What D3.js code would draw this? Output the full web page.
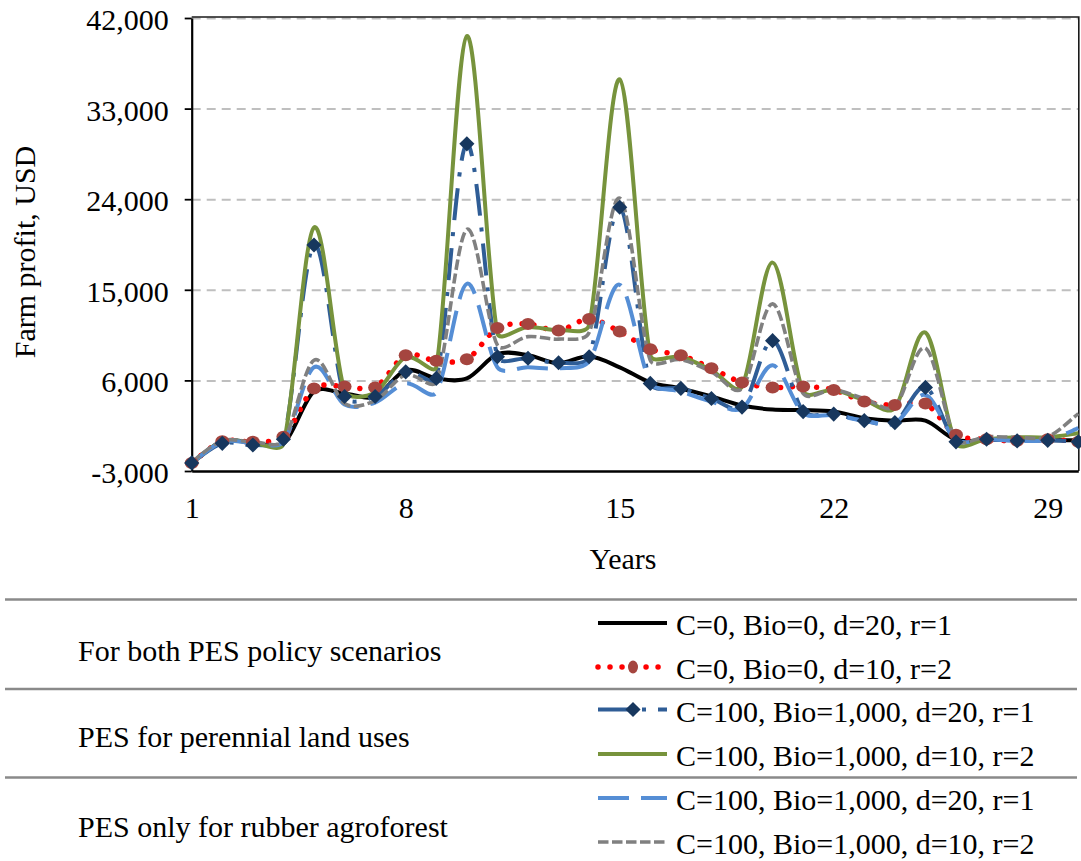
<!DOCTYPE html>
<html><head><meta charset="utf-8">
<script src="https://cdn.jsdelivr.net/npm/d3@7"></script>
<style>
body{margin:0;background:#fff;}
svg{display:block;font-family:"Liberation Serif","Times New Roman",serif;}
</style>
</head><body>
<svg id="c" width="1081" height="861"></svg>
<script>
// ---------------- data ----------------
const years = [1,2,3,4,5,6,7,8,9,10,11,12,13,14,15,16,17,18,19,20,21,22,23,24,25,26,27,28,29,30];
const xTicks = [1, 8, 15, 22, 29];
const yTicks = [-3000, 6000, 15000, 24000, 33000, 42000];

const seriesNames = [
  "C=0, Bio=0, d=20, r=1",
  "C=0, Bio=0, d=10, r=2",
  "C=100, Bio=1,000, d=20, r=1",
  "C=100, Bio=1,000, d=10, r=2",
  "C=100, Bio=1,000, d=20, r=1",
  "C=100, Bio=1,000, d=10, r=2"
];
const groupNames = ["For both PES policy scenarios", "PES for perennial land uses", "PES only for rubber agroforest"];

const baseD20 = [-2200,-50,-150,-300,4900,4700,4400,7000,6200,6200,8600,8500,7700,8400,7300,5800,5200,4400,3500,3100,3050,2900,2250,2000,2000,100,100,50,50,50];
const baseD10 = [-2200,-50,-100,400,5200,5400,5300,8500,7950,8100,11200,11600,10950,12100,10850,9100,8500,7200,5800,5300,5400,5050,3900,3550,3700,600,150,0,150,-100];
const perenD20 = [-2200,-250,-420,150,19450,4400,4400,6850,6200,29500,8350,8200,7750,8350,23200,5700,5200,4200,3350,9950,2900,2650,2000,1800,5300,-100,150,0,50,-100];
const perenD10 = [-2200,-50,-200,-300,21200,5000,4800,8300,7350,40200,10700,11300,11000,11500,35900,8500,8350,7000,5400,17700,4900,5050,4050,3250,10750,-250,150,350,350,750];
const rubberD20 = [-2200,-100,-200,-100,7300,3600,3800,5700,4800,15600,7300,7300,7200,7900,15500,5800,4900,3900,3200,7500,2750,2550,2000,1750,4550,100,150,0,100,1250];
const rubberD10 = [-2100,0,-100,0,8000,3700,4000,6550,5850,21000,9500,10350,10100,10750,24100,8000,8050,6850,5200,13600,4700,5050,4200,3400,9200,100,400,350,400,2700];

// ---------------- styles built from data ----------------
const series = [
  {name: seriesNames[0], values: baseD20, color:"#000000", width:4, dash:null, cap:"butt"},
  {name: seriesNames[1], values: baseD10, color:"#ff0000", width:5.5, dash:"0.01 12", cap:"round", marker:"circle", mcolor:"#a5453f"},
  {name: seriesNames[2], values: perenD20, color:"#2f5d96", width:4, dash:"32 12 4 12", cap:"butt", marker:"diamond", mcolor:"#17375e"},
  {name: seriesNames[3], values: perenD10, color:"#77933c", width:4, dash:null, cap:"butt"},
  {name: seriesNames[4], values: rubberD20, color:"#558ed5", width:4, dash:"31 12", cap:"butt"},
  {name: seriesNames[5], values: rubberD10, color:"#808080", width:3.6, dash:"10.5 3.5", cap:"butt"}
];

const svg = d3.select("#c");
const x = d3.scaleLinear().domain([1,30]).range([191.7,1078.3]);
const y = d3.scaleLinear().domain([-3000,42000]).range([471,18]);
const FS = 30;

// Excel-like smoothing: Bezier with 1/6 tangents, handle clamped relative to chord
function smoothPath(pts, K){
  const p = d3.path();
  p.moveTo(pts[0][0], pts[0][1]);
  const n = pts.length;
  for (let i=0;i<n-1;i++){
    const p0 = pts[Math.max(i-1,0)], p1 = pts[i], p2 = pts[i+1], p3 = pts[Math.min(i+2,n-1)];
    const chord = Math.hypot(p2[0]-p1[0], p2[1]-p1[1]);
    const lim = chord*K;
    let t1 = [(p2[0]-p0[0])/6, (p2[1]-p0[1])/6];
    let t2 = [(p3[0]-p1[0])/6, (p3[1]-p1[1])/6];
    const l1 = Math.hypot(t1[0],t1[1]); if (l1>lim) t1 = [t1[0]*lim/l1, t1[1]*lim/l1];
    const l2 = Math.hypot(t2[0],t2[1]); if (l2>lim) t2 = [t2[0]*lim/l2, t2[1]*lim/l2];
    p.bezierCurveTo(p1[0]+t1[0], p1[1]+t1[1], p2[0]-t2[0], p2[1]-t2[1], p2[0], p2[1]);
  }
  return p.toString();
}

// gridlines
svg.append("g").selectAll("line").data(yTicks.filter(d=>d>-3000)).join("line")
  .attr("x1", x(1)).attr("x2", x(30))
  .attr("y1", d=>y(d)+0.5).attr("y2", d=>y(d)+0.5)
  .attr("stroke","#bfbfbf").attr("stroke-width",2).attr("stroke-dasharray","9 6");

// frame (top & right)
svg.append("path")
  .attr("d", `M${x(1)},${y(42000)-1}H${x(30)+0.5}V${y(-3000)}`)
  .attr("fill","none").attr("stroke","#1a1a1a").attr("stroke-width",1.6);

// y axis
const fmt = d => d3.format(",")(d).replace("\u2212","-");
const gy = svg.append("g").attr("transform",`translate(${x(1)},0)`)
  .call(d3.axisLeft(y).tickValues(yTicks).tickFormat(fmt).tickSize(7).tickSizeOuter(0).tickPadding(16));
gy.attr("font-family",null);
gy.select(".domain").attr("stroke","#000").attr("stroke-width",2.2);
gy.selectAll(".tick line").attr("stroke","#000").attr("stroke-width",1.8);
gy.selectAll(".tick text").attr("font-size",FS).attr("fill","#000").attr("dy","0.38em");

// x axis
const gx = svg.append("g").attr("transform",`translate(0,${y(-3000)})`)
  .call(d3.axisBottom(x).tickValues(xTicks).tickFormat(d3.format("d")).tickSize(0).tickSizeOuter(0));
gx.attr("font-family",null);
gx.select(".domain").attr("stroke","#000").attr("stroke-width",2.6);
gx.selectAll(".tick text").attr("font-size",FS).attr("fill","#000").attr("y",47).attr("dy",0);

// axis titles
svg.append("text").attr("x",623).attr("y",569).attr("text-anchor","middle")
  .attr("font-size",FS).text("Years");
svg.append("text").attr("transform","translate(35,252) rotate(-90)").attr("text-anchor","middle")
  .attr("font-size",FS).text("Farm profit, USD");

// lines
const gl = svg.append("g");
series.forEach(s=>{
  const pts = s.values.map((v,i)=>[x(years[i]), y(v)]);
  gl.append("path").attr("d", smoothPath(pts, 1/3)).attr("fill","none")
    .attr("stroke", s.color).attr("stroke-width", s.width)
    .attr("stroke-dasharray", s.dash).attr("stroke-linecap", s.cap).attr("stroke-linejoin","round");
});
// markers
const diamond = d3.symbol(d3.symbolSquare, 115);
series.forEach(s=>{
  if(s.marker==="circle"){
    gl.append("g").selectAll("ellipse").data(s.values).join("ellipse")
      .attr("cx",(d,i)=>x(years[i])).attr("cy",d=>y(d)).attr("rx",7).attr("ry",6)
      .attr("fill",s.mcolor);
  } else if(s.marker==="diamond"){
    gl.append("g").selectAll("path").data(s.values).join("path")
      .attr("d",diamond()).attr("fill",s.mcolor)
      .attr("transform",(d,i)=>`translate(${x(years[i])},${y(d)}) rotate(45)`);
  }
});

// legend
const sepY = [599.5, 689, 777.5];
svg.append("g").selectAll("line").data(sepY).join("line")
  .attr("x1",5).attr("x2",1077).attr("y1",d=>d).attr("y2",d=>d)
  .attr("stroke","#8a8a8a").attr("stroke-width",2.6);
const groupY = [661, 747, 837];
svg.append("g").selectAll("text").data(groupNames).join("text")
  .attr("x",78).attr("y",(d,i)=>groupY[i]).attr("font-size",FS).text(d=>d);

const rowY = [623, 667, 709.5, 754, 798, 842];
const lg = svg.append("g");
series.forEach((s,i)=>{
  const yy = rowY[i];
  lg.append("line").attr("x1",598).attr("x2",667).attr("y1",yy).attr("y2",yy)
    .attr("stroke",s.color).attr("stroke-width",s.width)
    .attr("stroke-dasharray",s.dash).attr("stroke-linecap",s.cap);
  if(s.marker==="circle"){
    lg.append("ellipse").attr("cx",633).attr("cy",yy).attr("rx",5).attr("ry",6.5).attr("fill",s.mcolor);
  } else if(s.marker==="diamond"){
    lg.append("path").attr("d",diamond()).attr("fill",s.mcolor)
      .attr("transform",`translate(633,${yy}) rotate(45)`);
  }
  lg.append("text").attr("x",676).attr("y",yy+12.3).attr("font-size",FS).text(s.name);
});
</script>
</body></html>
